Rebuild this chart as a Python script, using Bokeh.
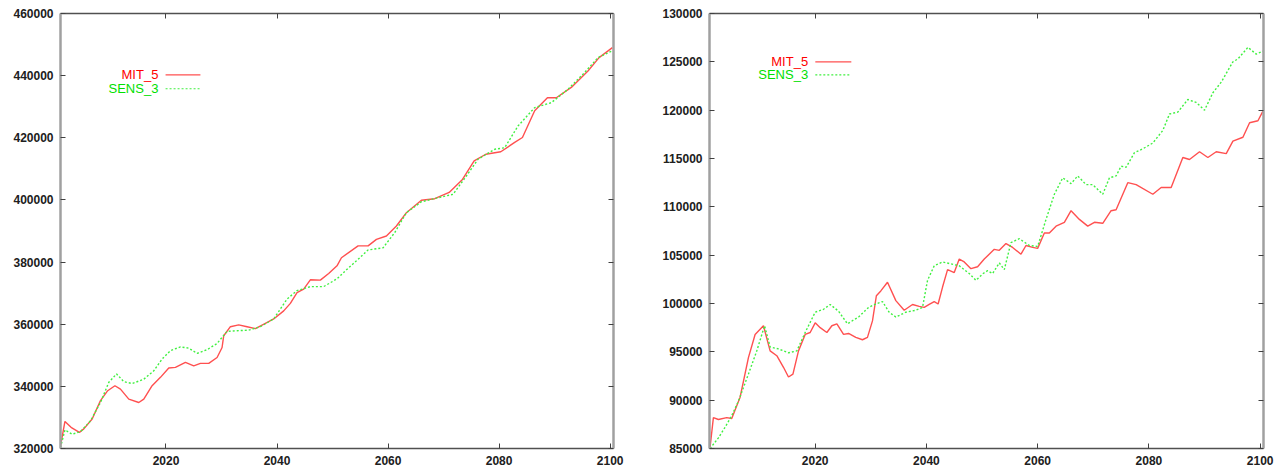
from bokeh.plotting import figure
from bokeh.layouts import row
from bokeh.models import (Range1d, LinearAxis, FixedTicker, Label, Arrow, PrintfTickFormatter)
from bokeh.embed import file_html
from bokeh.resources import INLINE

# ---------------- data ----------------
left_mit_years = [2001.0, 2001.8, 2002.9, 2004.4, 2005.2, 2006.7, 2008.2, 2009.5, 2010.8, 2011.8,
                  2013.3, 2015.1, 2016.0, 2017.5, 2019.0, 2020.5, 2021.7, 2023.5, 2025.0, 2026.2,
                  2027.7, 2029.2, 2030.1, 2030.4, 2031.6, 2033.1, 2034.6, 2036.1, 2037.9, 2039.4,
                  2041.2, 2042.4, 2043.6, 2044.8, 2046.0, 2047.8, 2049.3, 2050.8, 2051.6, 2054.6,
                  2056.4, 2057.9, 2059.7, 2061.5, 2063.3, 2066.0, 2068.4, 2071.0, 2073.4, 2075.5,
                  2077.6, 2080.3, 2082.8, 2084.2, 2086.4, 2088.7, 2090.3, 2093.0, 2096.0, 2098.0,
                  2100.4]
left_mit_vals = [320800, 328700, 326800, 325200, 326300, 329500, 335400, 338600, 340200, 339100,
                 335900, 334800, 335900, 340200, 342900, 345900, 346100, 347700, 346600, 347400,
                 347400, 349300, 352500, 356300, 359200, 359800, 359200, 358600, 360300, 361700,
                 364300, 366700, 370200, 371300, 374300, 374200, 376300, 378800, 381400, 385200,
                 385200, 387300, 388400, 391600, 395900, 399900, 400400, 402400, 406600, 412600,
                 414700, 415500, 418500, 420100, 428700, 432900, 432900, 436200, 441500, 445800,
                 449000]

left_sens_years = [2001.0, 2001.8, 2003.1, 2004.6, 2006.4, 2008.2, 2009.7, 2011.1, 2012.4, 2013.9,
                   2016.0, 2017.8, 2019.3, 2020.8, 2022.6, 2024.1, 2025.6, 2027.4, 2029.2, 2031.0,
                   2032.8, 2034.9, 2037.0, 2039.4, 2041.8, 2043.6, 2046.0, 2048.4, 2050.8, 2052.5,
                   2054.3, 2056.4, 2059.1, 2061.2, 2063.3, 2066.0, 2069.0, 2071.7, 2074.1, 2076.2,
                   2079.2, 2081.0, 2083.4, 2086.4, 2089.4, 2092.4, 2095.4, 2097.8, 2100.4]
left_sens_vals = [320300, 326000, 324600, 325400, 328900, 334800, 341300, 344000, 341500, 340900,
                  342300, 345000, 348800, 351500, 352700, 352300, 350600, 351800, 353800, 357700,
                  357900, 358100, 359200, 361700, 368100, 370800, 372100, 372100, 374600, 377500,
                  380400, 383900, 384600, 389500, 395900, 399400, 400700, 401800, 407700, 413100,
                  416300, 416800, 423800, 429700, 431300, 435600, 441000, 445800, 448000]

right_mit_years = [2001.1, 2001.7, 2002.6, 2004.1, 2005.0, 2006.5, 2008.0, 2009.2, 2010.7, 2011.9,
                   2013.1, 2014.3, 2015.2, 2016.0, 2017.0, 2018.2, 2019.1, 2020.0, 2020.9, 2022.1,
                   2023.0, 2023.9, 2025.1, 2026.0, 2027.3, 2028.5, 2029.4, 2030.3, 2031.0, 2031.8,
                   2033.0, 2034.5, 2036.0, 2037.5, 2038.7, 2039.6, 2040.5, 2041.4, 2042.1, 2042.9,
                   2043.8, 2045.0, 2045.9, 2046.8, 2048.0, 2049.2, 2050.4, 2052.2, 2053.1, 2054.3,
                   2055.5, 2057.0, 2057.9, 2059.1, 2060.0, 2061.2, 2062.1, 2063.3, 2064.8, 2066.0,
                   2067.5, 2069.0, 2070.2, 2071.7, 2073.2, 2074.1, 2076.2, 2077.7, 2080.7, 2082.2,
                   2084.0, 2086.1, 2087.3, 2089.1, 2090.6, 2092.1, 2093.9, 2095.1, 2096.9, 2098.1,
                   2099.6, 2100.5]
right_mit_vals = [85100, 88200, 88000, 88200, 88100, 90300, 94400, 96800, 97700, 95100,
                  94600, 93400, 92400, 92700, 95100, 96800, 97000, 98000, 97500, 97000,
                  97700, 97900, 96800, 96900, 96500, 96250, 96500, 98200, 100800, 101300,
                  102200, 100300, 99300, 99900, 99700, 99600, 99900, 100200, 99950, 101700,
                  103500, 103200, 104600, 104300, 103600, 103800, 104600, 105600, 105500, 106200,
                  105800, 105100, 106000, 105800, 105700, 107300, 107300, 108000, 108400, 109600,
                  108700, 108000, 108400, 108300, 109600, 109700, 112500, 112300, 111300, 112000,
                  112000, 115100, 114900, 115700, 115100, 115700, 115500, 116800, 117200, 118700,
                  118900, 119900]

right_sens_years = [2001.1, 2002.6, 2003.8, 2005.0, 2006.2, 2008.0, 2009.5, 2010.9, 2011.9, 2013.4,
                    2015.2, 2016.7, 2018.2, 2020.0, 2021.5, 2022.7, 2024.2, 2025.8, 2027.8, 2029.6,
                    2030.9, 2032.1, 2033.3, 2034.5, 2036.3, 2038.1, 2039.3, 2040.2, 2041.4, 2042.9,
                    2044.4, 2045.9, 2047.7, 2048.9, 2050.2, 2051.0, 2051.9, 2053.1, 2054.0, 2055.2,
                    2056.7, 2058.5, 2060.0, 2061.5, 2063.0, 2064.5, 2066.0, 2067.2, 2068.7, 2069.9,
                    2071.7, 2072.9, 2074.1, 2075.0, 2075.9, 2077.4, 2078.9, 2080.7, 2082.5, 2083.7,
                    2085.2, 2087.0, 2088.5, 2090.0, 2091.5, 2093.0, 2095.1, 2096.0, 2097.8, 2099.3,
                    2100.5]
right_sens_vals = [85000, 86100, 87200, 88400, 89900, 92700, 95100, 97700, 95500, 95300,
                   94900, 95100, 97000, 99100, 99400, 99900, 99200, 97900, 98600, 99600,
                   99950, 100200, 99100, 98600, 99100, 99300, 99600, 102400, 103900, 104300,
                   104100, 103900, 103100, 102400, 103100, 103400, 103100, 104200, 103500, 106300,
                   106700, 106000, 105900, 108700, 111300, 113000, 112400, 113200, 112300, 112300,
                   111300, 113000, 113200, 114200, 114100, 115600, 116000, 116600, 117900, 119600,
                   119800, 121100, 120800, 120000, 121800, 122900, 125000, 125300, 126500, 125800,
                   126100]

series_names = ["MIT_5", "SENS_3"]
x_ticks = [2020, 2040, 2060, 2080, 2100]
left_y_ticks = [320000, 340000, 360000, 380000, 400000, 420000, 440000, 460000]
right_y_ticks = [85000, 90000, 95000, 100000, 105000, 110000, 115000, 120000, 125000, 130000]

X_RANGE = (2001.0, 2100.6)
LEFT_Y = (320000, 460000)
RIGHT_Y = (85000, 130000)

RED_LINE = "#ff5050"
GREEN_LINE = "#40f040"
RED_TEXT = "#ff0000"
GREEN_TEXT = "#00e000"
FONT = "Liberation Sans"


def make_panel(yr, yticks, mit_x, mit_y, sens_x, sens_y, legend_fracs, width,
               border_left, border_right):
    p = figure(width=width, height=470, output_backend="svg", toolbar_location=None,
               x_range=Range1d(*X_RANGE), y_range=Range1d(*yr),
               x_axis_location=None, y_axis_location=None,
               min_border_left=border_left, min_border_right=border_right,
               min_border_top=13, min_border_bottom=22)
    p.outline_line_color = None
    p.xgrid.grid_line_color = None
    p.ygrid.grid_line_color = None
    p.background_fill_color = "white"
    p.border_fill_color = "white"

    def style(ax, show_labels, line_color, line_width):
        ax.axis_line_color = line_color
        ax.axis_line_width = line_width
        ax.major_tick_in = 5
        ax.major_tick_out = 0
        ax.minor_tick_line_color = None
        ax.major_tick_line_color = "#404040"
        ax.major_tick_line_width = 1
        ax.formatter = PrintfTickFormatter(format="%d")
        if show_labels:
            ax.major_label_text_font = FONT
            ax.major_label_text_font_style = "bold"
            ax.major_label_text_font_size = "12px"
            ax.major_label_text_color = "#202020"
            ax.major_label_standoff = 7
        else:
            ax.major_label_text_font_size = "0px"
            ax.major_label_text_color = None
            ax.major_label_standoff = 0

    xt = FixedTicker(ticks=x_ticks)
    yt = FixedTicker(ticks=yticks)

    below = LinearAxis(ticker=xt)
    style(below, True, "#505050", 1.5)
    p.add_layout(below, "below")
    above = LinearAxis(ticker=xt)
    style(above, False, "#505050", 1.5)
    p.add_layout(above, "above")
    left = LinearAxis(ticker=yt)
    style(left, True, "#a0a0a0", 2.5)
    p.add_layout(left, "left")
    right = LinearAxis(ticker=yt)
    style(right, False, "#a0a0a0", 2.5)
    p.add_layout(right, "right")

    p.line(mit_x, mit_y, line_color=RED_LINE, line_width=1.4)
    p.line(sens_x, sens_y, line_color=GREEN_LINE, line_width=1.4, line_dash="2 2")

    # legend (gnuplot style: text right-aligned, sample to the right)
    tx, lx0, lx1, ys = legend_fracs
    xs, xe = X_RANGE
    ylo, yhi = yr
    def fx(f):
        return xs + f * (xe - xs)
    def fy(f):
        return yhi - f * (yhi - ylo)
    for name, col_t, col_l, dash, yf in [
        (series_names[0], RED_TEXT, RED_LINE, "solid", ys[0]),
        (series_names[1], GREEN_TEXT, GREEN_LINE, "2 2", ys[1]),
    ]:
        p.add_layout(Label(x=fx(tx), y=fy(yf), text=name, text_align="right",
                           text_baseline="middle", text_color=col_t,
                           text_font=FONT, text_font_size="13px"))
        p.add_layout(Arrow(end=None, x_start=fx(lx0), y_start=fy(yf),
                           x_end=fx(lx1), y_end=fy(yf),
                           line_color=col_l, line_width=1.2, line_dash=dash))
    return p


p1 = make_panel(LEFT_Y, left_y_ticks, left_mit_years, left_mit_vals,
                left_sens_years, left_sens_vals,
                (0.177, 0.19, 0.253, (0.141, 0.173)), width=657,
                border_left=60, border_right=44)
p2 = make_panel(RIGHT_Y, right_y_ticks, right_mit_years, right_mit_vals,
                right_sens_years, right_sens_vals,
                (0.178, 0.191, 0.256, (0.111, 0.141)), width=620,
                border_left=52, border_right=14)

layout = row(p1, p2)
open("out.html", "w").write(file_html(layout, INLINE))
